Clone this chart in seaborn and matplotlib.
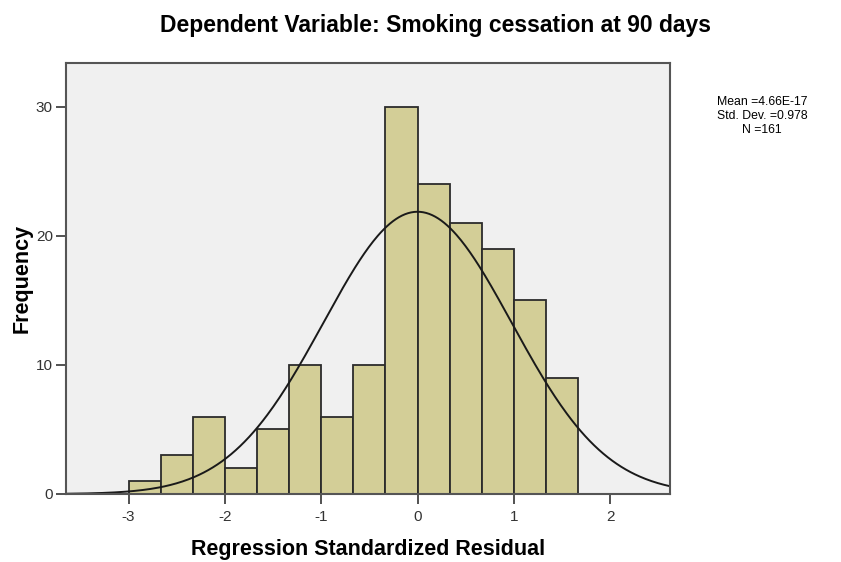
import numpy as np
import pandas as pd
import matplotlib
matplotlib.use('Agg')
import matplotlib.pyplot as plt
import seaborn as sns

# --- data ---
bin_edges = [-3.0, -2.667, -2.333, -2.0, -1.667, -1.333, -1.0, -0.667,
             -0.333, 0.0, 0.333, 0.667, 1.0, 1.333, 1.667]
counts = [1, 3, 6, 2, 5, 10, 6, 10, 30, 24, 21, 19, 15, 9]
mean_val = 4.66e-17
sd_val = 0.978
n_val = 161
x_ticks = [-3, -2, -1, 0, 1, 2]
y_ticks = [0, 10, 20, 30]

sns.set_style('white')
plt.rcParams['font.family'] = ['Liberation Sans', 'DejaVu Sans']
plt.rcParams['axes.unicode_minus'] = False

edges = np.array(bin_edges)
centers = (edges[:-1] + edges[1:]) / 2
df = pd.DataFrame({'resid': centers, 'n': counts})

fig = plt.figure(figsize=(8.41, 5.62), dpi=100)
ax = fig.add_axes([0.0785, 0.121, 0.718, 0.767])
ax.set_facecolor('#F0F0F0')

sns.histplot(data=df, x='resid', weights='n', bins=list(bin_edges), ax=ax,
             color='#D3CE97', alpha=1, edgecolor='#2b2b2b', linewidth=1.3)

# normal curve from the reported mean / sd / N
bw = edges[1] - edges[0]
xs = np.linspace(-3.65, 2.62, 400)
ys = n_val * bw * np.exp(-0.5 * ((xs - mean_val) / sd_val) ** 2) / (sd_val * np.sqrt(2 * np.pi))
sns.lineplot(x=xs, y=ys, ax=ax, color='#1a1a1a', linewidth=1.4)

ax.set_xlim(-3.65, 2.62)
ax.set_ylim(0, 33.4)
ax.set_xticks(x_ticks)
ax.set_yticks(y_ticks)
ax.tick_params(axis='both', direction='out', length=7.5, width=1.2, color='#333333',
               labelsize=11, labelcolor='#333333', left=True, bottom=True, pad=2)
ax.tick_params(axis='x', pad=4)
for s in ax.spines.values():
    s.set_color('#555555')
    s.set_linewidth(1.5)

ax.set_xlabel('Regression Standardized Residual', fontsize=15.5, fontweight='bold',
              labelpad=11, color='black')
ax.set_ylabel('Frequency', fontsize=15.5, fontweight='bold', labelpad=2, color='black')

fig.text(0.518, 0.955, 'Dependent Variable: Smoking cessation at 90 days',
         ha='center', va='center', fontsize=16.5, fontweight='bold', color='black')
fig.text(0.906, 0.7936, 'Mean =4.66E-17\nStd. Dev. =0.978\nN =161',
         ha='center', va='center', fontsize=8.8, linespacing=1.2, color='black')

fig.savefig('out.png', dpi=100, facecolor='white')
